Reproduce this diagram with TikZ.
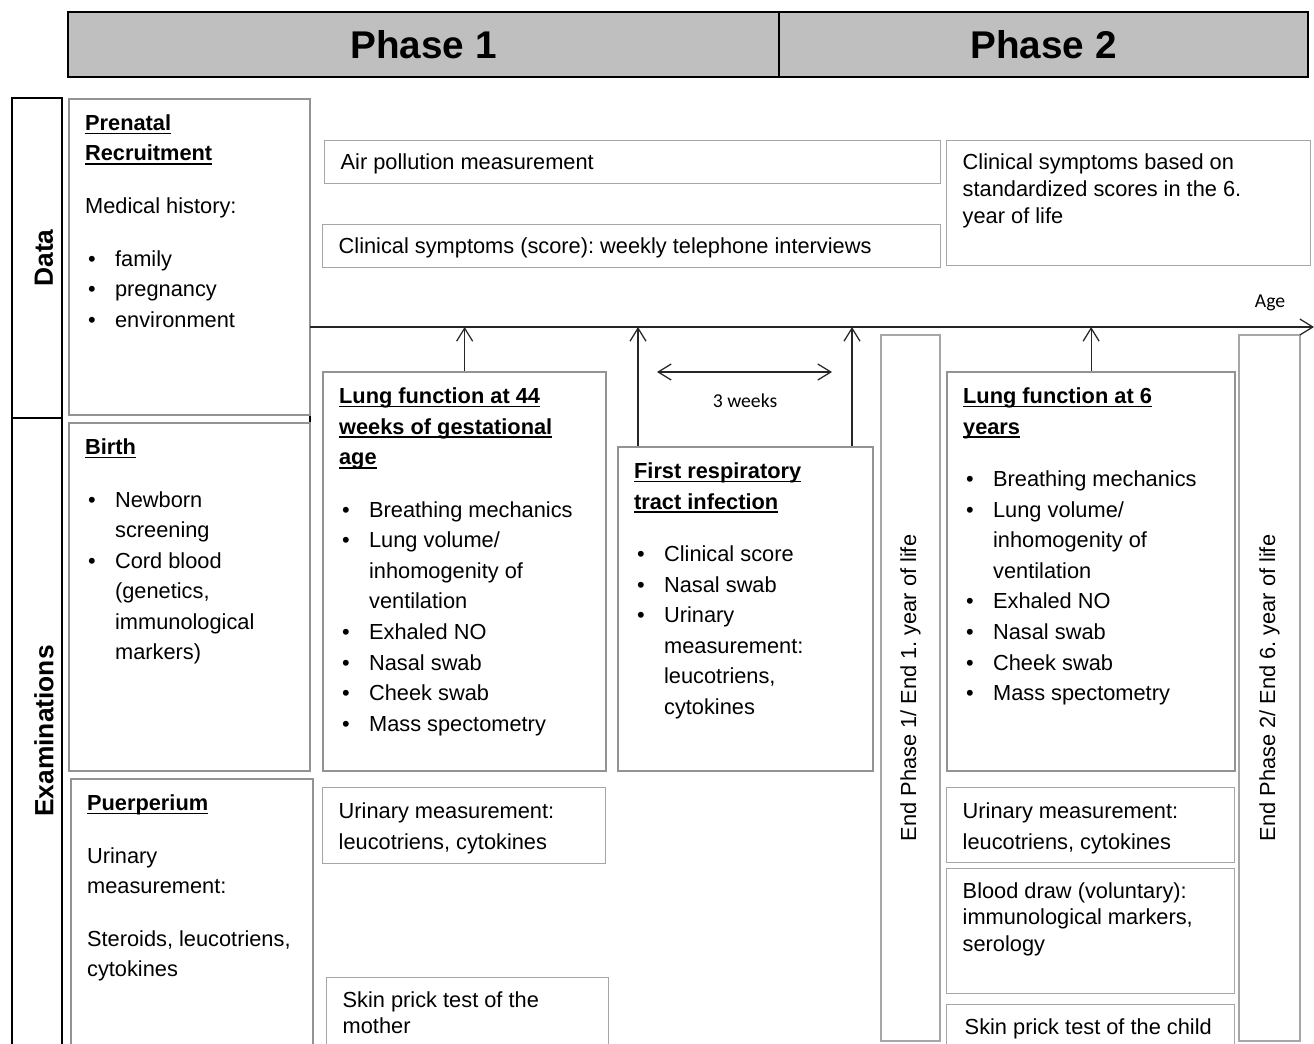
\documentclass[tikz,border=0pt]{standalone}
\usepackage{fontspec}
\setmainfont{Liberation Sans}
\newfontfamily\calibri{Carlito}
\usetikzlibrary{arrows.meta}
\frenchspacing

\newlength{\pix}
\setlength{\pix}{0.2mm}
\newsavebox{\headbox}

\newcommand{\bodyfont}{\fontsize{12.4pt}{17.4pt}\selectfont}
\newcommand{\notefont}{\fontsize{12.4pt}{15.2pt}\selectfont}
\newcommand{\head}[1]{\leavevmode\sbox{\headbox}{\textbf{#1}}%
  \rlap{\rule[-2.3pt]{\wd\headbox}{0.9pt}}\usebox{\headbox}}
\newcommand{\bul}[1]{\par\noindent\hangindent=30\pix\hangafter=1%
  \makebox[30\pix][l]{\hspace*{3\pix}\textbullet}#1}
\newcommand{\cell}[3]{\begin{minipage}[t][#2\pix][t]{#1\pix}\raggedright #3\end{minipage}}

\tikzset{
  phase/.style={draw, line width=0.4mm, fill=gray!50, minimum height=13mm,
    font=\fontsize{22pt}{26pt}\selectfont\bfseries},
  lane/.style={draw, line width=0.3mm, minimum width=10mm, inner sep=0pt},
  lanetext/.style={rotate=90, font=\fontsize{15pt}{18pt}\selectfont\bfseries},
  stage/.style={draw=gray!85, line width=0.45mm, anchor=north west,
    inner xsep=3.2mm, inner ysep=3.1mm, font=\bodyfont},
  note/.style={draw=gray!70, line width=0.28mm, anchor=north west,
    inner xsep=3.2mm, inner ysep=2.7mm, font=\notefont},
  endbar/.style={draw=gray!70, line width=0.28mm, rotate=90, font=\bodyfont},
  small/.style={font=\calibri\fontsize{11.2pt}{13pt}\selectfont},
  link/.style={->, line width=0.25mm, draw=black!85},
}

\begin{document}
\begin{tikzpicture}[x=0.2mm, y=-0.2mm, >={Straight Barb[length=2.6mm,width=3.2mm]}]
  \useasboundingbox (0,0) rectangle (1314,1043);
  \clip (0,0) rectangle (1314,1043);

  % phases
  \node[phase, minimum width=142.2mm] (ph1) at (423.5,44.5) {Phase 1};
  \node[phase, minimum width=105.8mm] (ph2) at (1043.5,44.5) {Phase 2};

  % row labels
  \node[lane, minimum height=64mm] (data) at (37,258) {};
  \node[lane, minimum height=128.4mm] (exam) at (37,739) {};
  \node[lanetext] (datatxt) at (44,258) {Data};
  \node[lanetext] (examtxt) at (44,731) {Examinations};
  \draw[line width=0.3mm] (310,107) -- (310,445);

  % first column
  \node[stage] (prenatal) at (68,98) {\cell{209}{285}{%
    \head{Prenatal}\\ \head{Recruitment}\par\vspace{22\pix}
    Medical history:\par\vspace{22\pix}
    \bul{family}\bul{pregnancy}\bul{environment}}};
  \node[stage] (birth) at (68,422) {\cell{209}{317}{%
    \head{Birth}\par\vspace{22\pix}
    \bul{Newborn\newline screening}\bul{Cord blood\newline (genetics,\newline immunological\newline markers)}}};
  \node[stage] (puerp) at (70,778) {\cell{210}{259}{%
    \head{Puerperium}\par\vspace{22\pix}
    Urinary\\measurement:\par\vspace{22\pix}
    Steroids, leucotriens,\\cytokines}};

  % data rows
  \node[note] (air) at (324,140) {\cell{584}{16}{Air pollution measurement}};
  \node[note] (score) at (322,224) {\cell{586}{16}{Clinical symptoms (score): weekly telephone interviews}};
  \node[note] (score6) at (946,140) {\cell{332}{98}{%
    Clinical symptoms based on\\standardized scores in the 6.\\year of life}};

  % examinations
  \node[stage] (lung44) at (322,371) {\cell{251}{368}{%
    \head{Lung function at 44}\\ \head{weeks of gestational}\\ \head{age}\par\vspace{22\pix}
    \bul{Breathing mechanics}\bul{Lung volume/\newline inhomogenity of\newline ventilation}
    \bul{Exhaled NO}\bul{Nasal swab}\bul{Cheek swab}\bul{Mass spectometry}}};
  \node[stage] (resp) at (617,446) {\cell{223}{293}{%
    \head{First respiratory}\\ \head{tract infection}\par\vspace{22\pix}
    \bul{Clinical score}\bul{Nasal swab}\bul{Urinary\newline measurement:\newline leucotriens,\newline cytokines}}};
  \node[stage] (lung6) at (946,371) {\cell{256}{368}{%
    \head{Lung function at 6}\\ \head{years}\par\vspace{22\pix}
    \bul{Breathing mechanics}\bul{Lung volume/\newline inhomogenity of\newline ventilation}
    \bul{Exhaled NO}\bul{Nasal swab}\bul{Cheek swab}\bul{Mass spectometry}}};

  \node[note, font=\bodyfont, inner ysep=3mm] (urine1) at (322,787) {\cell{251}{46}{%
    Urinary measurement:\\leucotriens, cytokines}};
  \node[note] (prick1) at (326,977) {\cell{250}{63}{Skin prick test of the\\mother}};
  \node[note, font=\bodyfont, inner ysep=3mm] (urine2) at (946,787) {\cell{256}{45}{%
    Urinary measurement:\\leucotriens, cytokines}};
  \node[note] (blood) at (946,868) {\cell{256}{98}{%
    Blood draw (voluntary):\\immunological markers,\\serology}};
  \node[note, inner xsep=3.6mm] (prick2) at (946,1004) {\cell{252}{33}{Skin prick test of the child}};

  % end of phases
  \node[endbar, minimum width=141.2mm, minimum height=11.8mm] (end1) at (910.5,688)
    {End Phase 1/ End 1. year of life};
  \node[endbar, minimum width=141.2mm, minimum height=12.2mm] (end2) at (1269.5,688)
    {End Phase 2/ End 6. year of life};

  % age axis
  \coordinate (age0) at (310,327);
  \coordinate (age1) at (1314,327);
  \draw[link] (age0) -- (age1);
  \node[small] (agelbl) at (1270,303) {Age};

  \coordinate (inf0) at (638,327);
  \coordinate (inf1) at (852,327);
  \draw[link] (lung44.north) -- (lung44.north |- age0);
  \draw[link] (inf0 |- resp.north) -- (inf0);
  \draw[link] (inf1 |- resp.north) -- (inf1);
  \draw[link] (lung6.north) -- (lung6.north |- age0);

  \coordinate (w0) at (657,372);
  \coordinate (w1) at (832,372);
  \draw[link, <->] (w0) -- (w1);
  \node[small] (gap) at (745,401) {3 weeks};
\end{tikzpicture}
\end{document}
